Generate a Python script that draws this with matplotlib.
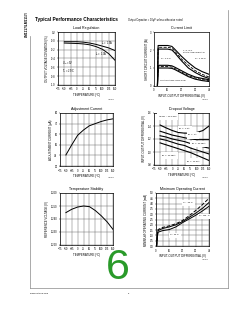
import matplotlib
matplotlib.use('Agg')
import matplotlib.pyplot as plt
import numpy as np

plt.rcParams['font.family']=['Liberation Sans','DejaVu Sans']

# ---- data ----
temps=[-50,-25,0,25,50,75,100,125,150]
temp_ticks=[-75,-50,-25,0,25,50,75,100,125,150]

# load regulation (% deviation)
loadreg_hi=[-0.02,-0.02,-0.02,-0.03,-0.05,-0.08,-0.12,-0.16,-0.22]
loadreg_lo=[-0.05,-0.055,-0.06,-0.07,-0.09,-0.13,-0.19,-0.29,-0.44]

# current limit vs input-output differential
ilim_v=[2.5,3,5,10,13,15,20,25,30,35,40]
ilim_big=[[0,2.25,2.25,2.25,2.2,2.05,1.65,1.3,1.0,0.8,0.65],
          [0,2.15,2.15,2.15,2.1,1.95,1.5,1.15,0.85,0.65,0.5],
          [0,2.05,2.05,2.05,2.0,1.85,1.4,1.0,0.75,0.55,0.42]]
ilim_small=[[0,1.15,1.15,1.15,1.12,1.05,0.85,0.65,0.5,0.42,0.35],
            [0,1.08,1.08,1.08,1.05,0.98,0.78,0.58,0.44,0.36,0.3],
            [0,1.0,1.0,1.0,0.98,0.92,0.72,0.52,0.38,0.3,0.25]]

# adjustment current (uA)
adj_cur=[40.4,50,59,64,68,70,72,73.5,74.5]

# dropout voltage (V) for several load currents
drop_names=['1.5A','1A','500 mA','200 mA','10 mA']
drop_vals=[[1.415,1.37,1.33,1.30,1.29,1.29,1.30,1.33,1.40],
           [1.32,1.29,1.26,1.24,1.22,1.20,1.19,1.19,1.19],
           [1.25,1.23,1.20,1.18,1.16,1.13,1.11,1.08,1.06],
           [1.20,1.18,1.15,1.12,1.10,1.06,1.03,1.00,0.97],
           [1.14,1.11,1.08,1.05,1.02,0.99,0.95,0.91,0.87]]

# temperature stability (reference voltage)
vref=[1.2449,1.2475,1.2492,1.2500,1.2495,1.2465,1.2425,1.2378,1.2320]

# minimum operating current (mA)
minop_v=[0.5,1.0,1.5,5,10,15,20,25,30,35,40]
minop=[[0,1.0,1.55,1.75,1.9,2.1,2.4,2.85,3.35,3.9,4.5],
       [0,0.9,1.45,1.65,1.8,2.0,2.3,2.7,3.1,3.55,4.1],
       [0,0.8,1.3,1.45,1.55,1.8,2.2,2.55,2.9,3.3,3.75]]

W,H=240,310
fig=plt.figure(figsize=(W/100,H/100),dpi=100)
wbox=dict(facecolor='w',edgecolor='none',pad=0.2)

def box(l,t,r,b):
    return [l/W,1-b/H,(r-l)/W,(b-t)/H]

def style(ax,title,xlabel,ylabel,grid=True):
    ax.tick_params(length=1,width=0.3,labelsize=1.9,pad=0.8)
    for s in ax.spines.values():s.set_linewidth(0.5)
    ax.set_title(title,fontsize=2.6,pad=2)
    ax.set_xlabel(xlabel,fontsize=2.1,labelpad=1)
    ax.set_ylabel(ylabel,fontsize=2.1,labelpad=1)
    if grid:ax.grid(True,color='#555555',lw=0.3)

# load regulation
ax=fig.add_axes(box(58,32,115,85))
ax.plot(temps,loadreg_hi,color='k',lw=0.7)
ax.plot(temps,loadreg_lo,color='k',lw=0.7)
ax.set_xlim(-75,150);ax.set_xticks(temp_ticks)
ax.set_ylim(-1.0,0.2);ax.set_yticks(np.arange(-1.0,0.21,0.2))
ax.yaxis.set_major_formatter(matplotlib.ticker.FormatStrFormatter('%.1f'))
ax.text(95,-0.08,'I$_O$ = 1.5A',fontsize=1.8)
ax.text(70,-0.32,'I$_O$ = 1.0A',fontsize=1.8)
ax.text(-60,-0.72,'V$_{IN}$ = 5V\nT$_A$ = 25°C',fontsize=1.8,linespacing=1.2)
style(ax,'Load Regulation','TEMPERATURE (°C)','OUTPUT VOLTAGE DEVIATION (%)')

# current limit
ax=fig.add_axes(box(154,32,209,86))
for grp in (ilim_big,ilim_small):
    for i,c in enumerate(grp):
        ax.plot(ilim_v,c,color='k',lw=0.8 if i!=1 else 0.6,ls='-' if i!=1 else '--')
ax.set_xlim(0,40);ax.set_xticks([0,10,20,30,40])
ax.set_ylim(0,3);ax.set_yticks([0,1,2,3])
ax.text(21,1.85,'T, S, & K\nPACKAGE (DDPAK)',fontsize=1.7,linespacing=1.1)
ax.text(4,1.45,'T$_J$ = 25°C',fontsize=1.7)
ax.text(29,1.45,'T$_J$ = 125°C',fontsize=1.7)
ax.text(4,0.25,'H PACKAGE (SOT-223)',fontsize=1.7,bbox=wbox)
style(ax,'Current Limit','INPUT-OUTPUT DIFFERENTIAL (V)','SHORT CIRCUIT CURRENT (A)',grid=False)

# adjustment current
ax=fig.add_axes(box(60,113,113,166))
ax.plot(temps,adj_cur,color='k',lw=0.7)
ax.set_xlim(-75,150);ax.set_xticks(temp_ticks)
ax.set_ylim(30,80);ax.set_yticks([30,40,50,60,70,80])
style(ax,'Adjustment Current','TEMPERATURE (°C)','ADJUSTMENT CURRENT (µA)')

# dropout voltage
ax=fig.add_axes(box(154,113,209,165))
for c in drop_vals:
    ax.plot(temps,c,color='k',lw=0.8)
ax.set_xlim(-75,150);ax.set_xticks(temp_ticks)
ax.set_ylim(0.8,1.6);ax.set_yticks([0.8,1.0,1.2,1.4,1.6])
ax.yaxis.set_major_formatter(matplotlib.ticker.FormatStrFormatter('%.1f'))
ax.text(-60,1.53,'ΔV$_{OUT}$ = 100 mV',fontsize=1.7,bbox=wbox)
lbl_pos=[(25,1.34),(60,1.245),(75,1.11),(-45,0.93),(55,0.84)]
for n,(x,y) in zip(drop_names,lbl_pos):
    ax.text(x,y,'I$_{OUT}$ = '+n,fontsize=1.6,bbox=wbox)
style(ax,'Dropout Voltage','TEMPERATURE (°C)','INPUT-OUTPUT DIFFERENTIAL (V)')

# temperature stability
ax=fig.add_axes(box(60,193,113,245))
ax.plot(temps,vref,color='k',lw=0.7)
ax.set_xlim(-75,150);ax.set_xticks(temp_ticks)
ax.set_ylim(1.220,1.260);ax.set_yticks([1.22,1.23,1.24,1.25,1.26])
ax.yaxis.set_major_formatter(matplotlib.ticker.FormatStrFormatter('%.3f'))
style(ax,'Temperature Stability','TEMPERATURE (°C)','REFERENCE VOLTAGE (V)')

# minimum operating current
ax=fig.add_axes(box(156,193,209,246))
for i,c in enumerate(minop):
    ax.plot(minop_v,c,color='k',lw=0.7,ls='--' if i==0 else '-')
ax.set_xlim(0,40);ax.set_xticks([0,10,20,30,40])
ax.set_xticks(np.arange(0,41,5),minor=True)
ax.set_ylim(0,5);ax.set_yticks(np.arange(0,5.01,0.5))
ax.yaxis.set_major_formatter(matplotlib.ticker.FormatStrFormatter('%.1f'))
ax.text(20,4.0,'T$_J$ = -55°C',fontsize=1.6,bbox=wbox)
ax.text(32,2.75,'T$_J$ = 125°C',fontsize=1.6,bbox=wbox)
ax.text(10,0.95,'T$_J$ = 25°C',fontsize=1.6,bbox=wbox)
style(ax,'Minimum Operating Current','INPUT-OUTPUT DIFFERENTIAL (V)','MINIMUM OPERATING CURRENT (mA)')
ax.grid(True,which='minor',axis='x',color='#555555',lw=0.3)
ax.tick_params(which='minor',length=0)

# page decorations
fig.text(35/W,1-20/H,'Typical Performance Characteristics',fontsize=3.4,weight='bold',va='center')
fig.text(128/W,1-20/H,'Output Capacitor = 10µF unless otherwise noted',fontsize=1.8,va='center')
fig.text(27/W,1-24/H,'LM1117/LM1117I',fontsize=2.3,weight='bold',rotation=90,ha='center',va='center')
for x,y in [(111,99),(205,99),(111,177),(205,177),(205,259)]:
    fig.text(x/W,1-y/H,'10094812',fontsize=1.2,ha='center',va='center',color='#444444')
fig.add_artist(plt.Line2D([30/W,30/W],[1-36/H,1-288/H],color='#888888',lw=0.5))
fig.add_artist(plt.Line2D([228/W,228/W],[1-10/H,1-288/H],color='#888888',lw=0.5))
fig.add_artist(plt.Line2D([30/W,228/W],[1-288/H,1-288/H],color='#888888',lw=0.5))
fig.text(30/W,1-293/H,'www.national.com',fontsize=1.6,va='center')
fig.text(128/W,1-293/H,'6',fontsize=1.6,va='center')
fig.text(118/W,1-268/H,'6',fontsize=31,color='#2a9a2a',ha='center',va='center')

fig.savefig('out.png',dpi=100)
